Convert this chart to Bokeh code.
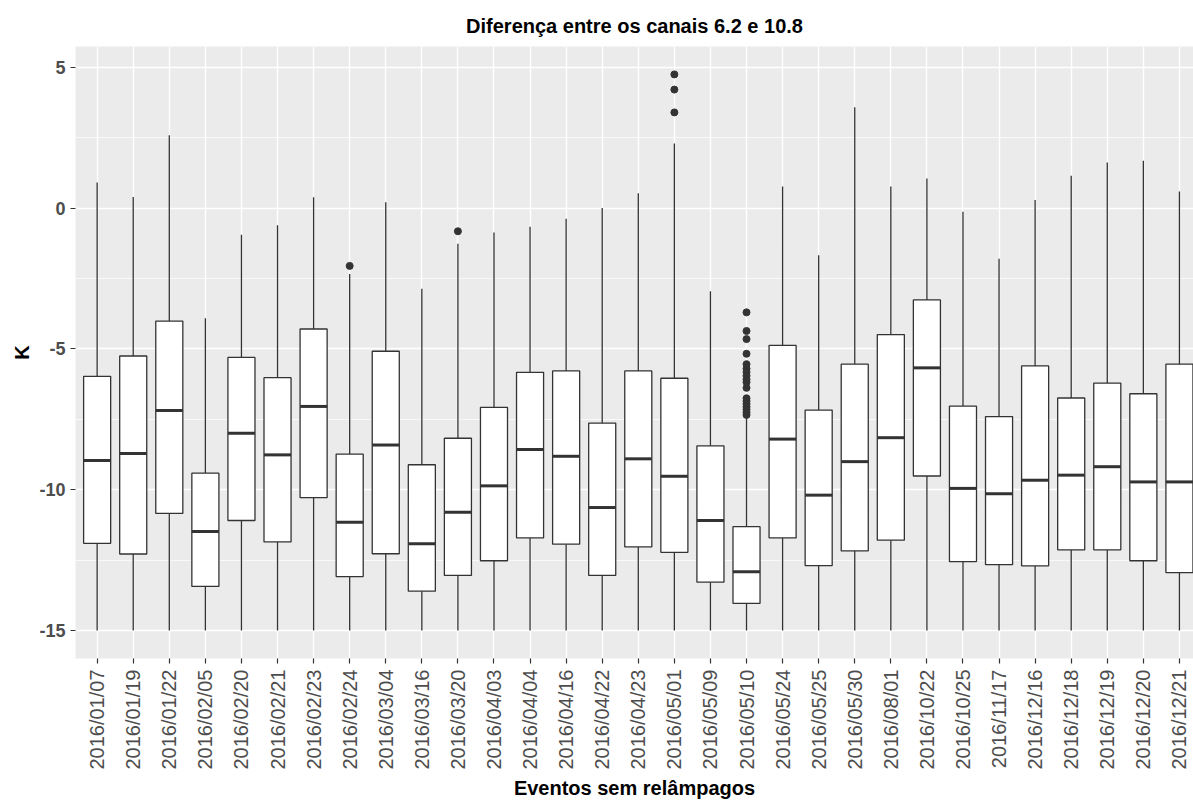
import math
from bokeh.plotting import figure
from bokeh.models import ColumnDataSource, Range1d, FixedTicker
from bokeh.transform import dodge
from bokeh.embed import file_html
from bokeh.resources import INLINE

dates = ["2016/01/07", "2016/01/19", "2016/01/22", "2016/02/05", "2016/02/20", "2016/02/21",
         "2016/02/23", "2016/02/24", "2016/03/04", "2016/03/16", "2016/03/20", "2016/04/03",
         "2016/04/04", "2016/04/16", "2016/04/22", "2016/04/23", "2016/05/01", "2016/05/09",
         "2016/05/10", "2016/05/24", "2016/05/25", "2016/05/30", "2016/08/01", "2016/10/22",
         "2016/10/25", "2016/11/17", "2016/12/16", "2016/12/18", "2016/12/19", "2016/12/20",
         "2016/12/21"]

upper = [0.91, 0.40, 2.59, -3.91, -0.94, -0.61, 0.39, -2.34, 0.21, -2.86, -1.26, -0.86,
         -0.66, -0.38, 0.01, 0.53, 2.30, -2.95, -7.45, 0.77, -1.67, 3.58, 0.77, 1.05,
         -0.13, -1.80, 0.29, 1.15, 1.62, 1.68, 0.59]
q3 = [-5.97, -5.25, -4.01, -9.41, -5.30, -6.02, -4.29, -8.73, -5.08, -9.11, -8.17, -7.07,
      -5.83, -5.78, -7.63, -5.78, -6.04, -8.44, -11.31, -4.87, -7.17, -5.54, -4.49, -3.26,
      -7.03, -7.40, -5.60, -6.74, -6.21, -6.59, -5.54]
median = [-8.96, -8.71, -7.18, -11.48, -7.99, -8.76, -7.04, -11.15, -8.41, -11.92, -10.80, -9.86,
          -8.57, -8.81, -10.63, -8.90, -9.52, -11.09, -12.91, -8.20, -10.19, -9.00, -8.15, -5.67,
          -9.95, -10.14, -9.66, -9.48, -9.18, -9.72, -9.72]
q1 = [-11.90, -12.28, -10.84, -13.43, -11.09, -11.85, -10.28, -13.08, -12.27, -13.60, -13.04, -12.52,
      -11.71, -11.93, -13.04, -12.03, -12.22, -13.28, -14.03, -11.71, -12.69, -12.17, -11.79, -9.51,
      -12.55, -12.66, -12.70, -12.13, -12.13, -12.52, -12.94]
lower = [-15.0, -15.0, -15.0, -15.0, -15.0, -15.0, -15.0, -15.0, -15.0, -15.0, -15.0, -15.0,
         -15.0, -15.0, -15.0, -15.0, -15.0, -15.0, -15.0, -15.0, -15.0, -15.0, -15.0, -15.0,
         -15.0, -15.0, -15.0, -15.0, -15.0, -15.0, -15.0]

outlier_dates = ["2016/02/24", "2016/03/20", "2016/05/01", "2016/05/01", "2016/05/01",
                 "2016/05/10", "2016/05/10", "2016/05/10", "2016/05/10", "2016/05/10",
                 "2016/05/10", "2016/05/10", "2016/05/10", "2016/05/10", "2016/05/10",
                 "2016/05/10", "2016/05/10", "2016/05/10", "2016/05/10", "2016/05/10",
                 "2016/05/10", "2016/05/10", "2016/05/10"]
outlier_values = [-2.05, -0.82, 4.75, 4.21, 3.40,
                  -3.70, -4.36, -4.65, -5.17, -5.54, -5.70, -5.82, -5.95, -6.08, -6.18,
                  -6.38, -6.75, -6.85, -6.95, -7.05, -7.15, -7.25, -7.34]

y_ticks = [-15, -10, -5, 0, 5]
y_tick_labels = ["-15", "-10", "-5", "0", "5"]
y_minor = [-12.5, -7.5, -2.5, 2.5]

FONT = "Liberation Sans"

pos = list(range(1, len(dates) + 1))
src = ColumnDataSource(dict(x=pos, upper=upper, q3=q3, median=median, q1=q1, lower=lower))
opos = [dates.index(d) + 1 for d in outlier_dates]
osrc = ColumnDataSource(dict(x=opos, y=outlier_values))

p = figure(width=1193, height=801, output_backend="svg", toolbar_location=None,
           x_range=Range1d(0.4, 31.39), y_range=Range1d(-15.99, 5.74),
           min_border_left=75, min_border_right=0, min_border_top=46, min_border_bottom=139,
           title="Diferença entre os canais 6.2 e 10.8")

p.background_fill_color = "#EBEBEB"
p.border_fill_color = "white"
p.outline_line_color = None

p.title.align = "center"
p.title.text_font = FONT
p.title.text_font_size = "20px"
p.title.text_font_style = "bold"
p.title.text_color = "black"
p.title.standoff = 20

# grids
p.xgrid.ticker = FixedTicker(ticks=pos)
p.xgrid.grid_line_color = "white"
p.xgrid.grid_line_width = 1.4
p.ygrid.ticker = FixedTicker(ticks=y_ticks, minor_ticks=y_minor)
p.ygrid.grid_line_color = "white"
p.ygrid.grid_line_width = 1.4
p.ygrid.minor_grid_line_color = "white"
p.ygrid.minor_grid_line_width = 0.7

# axes
p.xaxis.ticker = FixedTicker(ticks=pos)
p.xaxis.major_label_overrides = {i + 1: d for i, d in enumerate(dates)}
p.xaxis.major_label_orientation = math.pi / 2
p.xaxis.major_label_text_font = FONT
p.xaxis.major_label_text_font_size = "20px"
p.xaxis.major_label_text_color = "#4D4D4D"
p.xaxis.major_label_standoff = 6
p.xaxis.axis_label = "Eventos sem relâmpagos"
p.xaxis.axis_label_text_font = FONT
p.xaxis.axis_label_text_font_size = "20px"
p.xaxis.axis_label_text_font_style = "bold"
p.xaxis.axis_label_text_color = "black"
p.xaxis.axis_label_standoff = 4

p.yaxis.ticker = FixedTicker(ticks=y_ticks)
p.yaxis.major_label_overrides = dict(zip(y_ticks, y_tick_labels))
p.yaxis.major_label_text_font = FONT
p.yaxis.major_label_text_font_size = "18px"
p.yaxis.major_label_text_font_style = "bold"
p.yaxis.major_label_text_color = "#4D4D4D"
p.yaxis.major_label_standoff = 5
p.yaxis.axis_label = "K"
p.yaxis.axis_label_text_font = FONT
p.yaxis.axis_label_text_font_size = "20px"
p.yaxis.axis_label_text_font_style = "bold"
p.yaxis.axis_label_text_color = "black"
p.yaxis.axis_label_standoff = 3

for ax in (p.xaxis, p.yaxis):
    ax.axis_line_color = None
    ax.major_tick_line_color = "#333333"
    ax.major_tick_line_width = 1.2
    ax.major_tick_out = 5
    ax.major_tick_in = 0
    ax.minor_tick_line_color = None

# whiskers
p.segment(x0="x", y0="q3", x1="x", y1="upper", source=src, line_color="#333333", line_width=1.3)
p.segment(x0="x", y0="q1", x1="x", y1="lower", source=src, line_color="#333333", line_width=1.3)
# boxes
p.vbar(x="x", width=0.75, top="q3", bottom="q1", source=src, fill_color="white",
       line_color="#333333", line_width=1.3)
# medians
p.segment(x0=dodge("x", -0.375), y0="median", x1=dodge("x", 0.375), y1="median", source=src,
          line_color="#333333", line_width=3)
# outliers
p.scatter(x="x", y="y", source=osrc, size=7, fill_color="#333333", line_color="#333333")

open("out.html", "w").write(file_html(p, INLINE))
